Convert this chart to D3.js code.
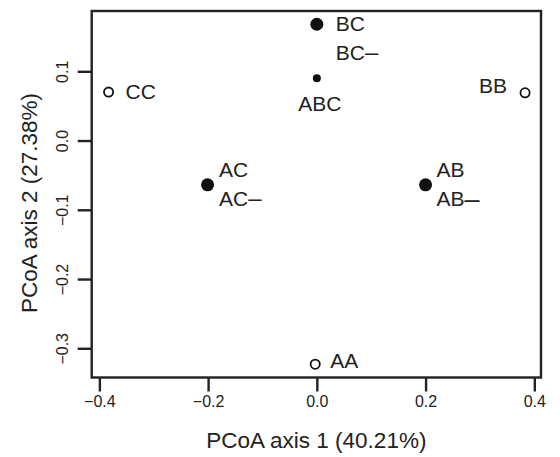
<!DOCTYPE html>
<html>
<head>
<meta charset="utf-8">
<script src="https://cdn.jsdelivr.net/npm/d3@7"></script>
<style>
  html, body { margin: 0; padding: 0; background: #fff; }
  svg { display: block; }
  text { font-family: "Liberation Sans", Arial, Helvetica, sans-serif; fill: #222; }
</style>
</head>
<body>
<svg id="chart" width="560" height="457"></svg>
<script>
// ---- data ----
const samples = ["CC", "BB", "AA", "BC", "ABC", "AC", "AB"];
const pc1 = [-0.383, 0.383, -0.003, 0.0, 0.0, -0.201, 0.2];
const pc2 = [0.070, 0.069, -0.323, 0.168, 0.090, -0.064, -0.064];
const filled = [false, false, false, true, true, true, true];
const large = [false, false, false, true, false, true, true];

const pointLabels = ["CC", "BB", "AA", "BC", "BC–", "ABC", "AC", "AC–", "AB", "AB–"];
const labelOf = ["CC", "BB", "AA", "BC", "BC", "ABC", "AC", "AC", "AB", "AB"];

const xTicks = [-0.4, -0.2, 0.0, 0.2, 0.4];
const yTicks = [-0.3, -0.2, -0.1, 0.0, 0.1];
const xTitle = "PCoA axis 1 (40.21%)";
const yTitle = "PCoA axis 2 (27.38%)";

// ---- layout ----
const L = 91.7, R = 541, T = 11, B = 377.5;
const svg = d3.select("#chart");

const x = d3.scaleLinear().domain([-0.4141, 0.4123]).range([L, R]);
const y = d3.scaleLinear().domain([0.1871, -0.3422]).range([T, B]);

// axes
const fmt = d => d3.format(".1f")(d).replace("-", "\u2013");
const xAxis = d3.axisBottom(x).tickValues(xTicks).tickSize(14).tickPadding(4).tickFormat(fmt);
const yAxis = d3.axisLeft(y).tickValues(yTicks).tickSize(14).tickPadding(4).tickFormat(fmt);

const gx = svg.append("g").attr("transform", `translate(0,${B})`).call(xAxis);
gx.select(".domain").remove();
gx.selectAll(".tick line").attr("stroke", "#222").attr("stroke-width", 2.4);
gx.selectAll(".tick text").attr("font-size", 16).attr("y", 24).attr("dy", "0.32em").style("fill", "#222");

const gy = svg.append("g").attr("transform", `translate(${L},0)`).call(yAxis);
gy.select(".domain").remove();
gy.selectAll(".tick line").attr("stroke", "#222").attr("stroke-width", 2.4);
gy.selectAll(".tick text")
  .attr("font-size", 16)
  .attr("x", 0).attr("dy", "0.32em")
  .attr("text-anchor", "middle")
  .attr("transform", "translate(-29,0) rotate(-90)")
  .style("fill", "#222");

// box
svg.append("rect")
  .attr("x", L).attr("y", T).attr("width", R - L).attr("height", B - T)
  .attr("fill", "none").attr("stroke", "#222").attr("stroke-width", 2.4);

// titles
svg.append("text")
  .attr("x", (L + R) / 2).attr("y", 440).attr("dy", "0.35em")
  .attr("text-anchor", "middle").attr("font-size", 22.5)
  .text(xTitle);
svg.append("text")
  .attr("transform", `translate(29,203) rotate(-90)`)
  .attr("dy", "0.35em")
  .attr("text-anchor", "middle").attr("font-size", 22.5)
  .text(yTitle);

// points
const pts = samples.map((s, i) => ({ s, x: pc1[i], y: pc2[i], f: filled[i], big: large[i] }));
svg.append("g").selectAll("circle").data(pts).join("circle")
  .attr("cx", d => x(d.x)).attr("cy", d => y(d.y))
  .attr("r", d => d.f ? (d.big ? 6.5 : 4) : 4.6)
  .attr("fill", d => d.f ? "#111" : "#fff")
  .attr("stroke", "#111")
  .attr("stroke-width", d => d.f ? 0 : 1.8);

// label placement offsets (px) relative to point
const offsets = {
  "CC":  { dx: 17, dy: 0, a: "start" },
  "BB":  { dx: -18, dy: -7, a: "end" },
  "AA":  { dx: 15, dy: -4, a: "start" },
  "BC":  { dx: 19, dy: -1, a: "start" },
  "BC–": { dx: 19, dy: 28, a: "start" },
  "ABC": { dx: 3, dy: 25, a: "middle" },
  "AC":  { dx: 11.5, dy: -15, a: "start" },
  "AC–": { dx: 11.5, dy: 14, a: "start" },
  "AB":  { dx: 11, dy: -15, a: "start" },
  "AB–": { dx: 11, dy: 14, a: "start" }
};
const labs = pointLabels.map((t, i) => {
  const j = samples.indexOf(labelOf[i]);
  return { t, x: pc1[j], y: pc2[j], o: offsets[t] };
});
const lt = svg.append("g").selectAll("text").data(labs).join("text")
  .attr("x", d => x(d.x) + d.o.dx)
  .attr("y", d => y(d.y) + d.o.dy)
  .attr("dy", "0.35em")
  .attr("text-anchor", d => d.o.a)
  .attr("font-size", 21);
lt.append("tspan").text(d => d.t.replace("–", ""));
lt.filter(d => d.t.endsWith("–")).append("tspan")
  .attr("dx", 0)
  .attr("dy", d => d.t === "AB–" ? 2 : 0)
  .attr("font-size", d => d.t === "AB–" ? 27 : 24)
  .text("–");
</script>
</body>
</html>
